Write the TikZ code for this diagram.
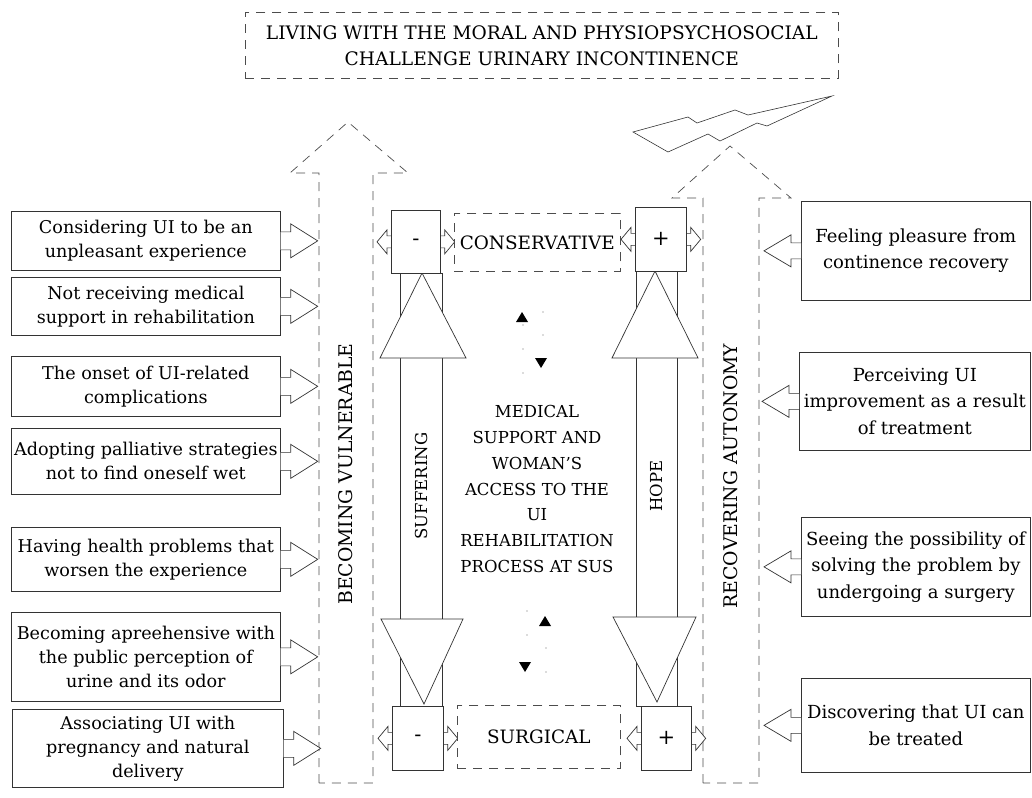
\documentclass[tikz,border=0pt]{standalone}
\usepackage{fontspec}
\setmainfont{DejaVu Serif}
\usetikzlibrary{calc}
\tikzset{
  ln/.style={draw=black!80, line width=0.7pt},
  dln/.style={draw=black!70, line width=0.7pt, dash pattern=on 9pt off 7pt},
  sbox/.style={ln, fill=white, rectangle, inner sep=0pt, anchor=north west, align=center, font=\fontsize{17.6}{24}\selectfont},
  rbox/.style={sbox, font=\fontsize{18}{26.5}\selectfont},
  dbox/.style={dln, fill=white, rectangle, inner sep=0pt, anchor=north west, align=center, font=\fontsize{18.6}{26}\selectfont},
  cbox/.style={ln, fill=white, rectangle, inner sep=0pt, anchor=north west, font=\fontsize{21}{24}\selectfont},
  lbl/.style={font=\fontsize{16.5}{25.8}\selectfont, align=center, inner sep=0pt},
  big/.style={lbl, font=\fontsize{18.8}{22}\selectfont},
  tri/.style={fill=black, draw=none},
  dotm/.style={fill=black!60, draw=none},
  arr/.style={ln, fill=white},
}
\newcommand\rarr[1]{\draw[arr] ($(#1.east)+(0,-9)$) -- ++(10,0) -- ++(0,-8) -- ++(27,17) -- ++(-27,17) -- ++(0,-8) -- ++(-10,0);}
\newcommand\larr[1]{\draw[arr] ($(#1.west)+(0,-8)$) -- ++(-10,0) -- ++(0,-8) -- ++(-27,16) -- ++(27,16) -- ++(0,-8) -- ++(10,0);}
\newcommand\harr[1]{\draw[arr] ($(#1.west)+(-14,0)$) -- ++(10,-12) -- ++(0,6) -- ($(#1.east)+(4,-6)$) -- ++(0,-6) -- ++(10,12) -- ++(-10,12) -- ++(0,-6) -- ($(#1.west)+(-4,6)$) -- ++(0,6) -- cycle;}
\begin{document}
\begin{tikzpicture}[x=1pt,y=-1pt]
\useasboundingbox (0,0) rectangle (1032,797);
% title
\node[dbox, minimum width=593pt, minimum height=66pt] (title) at (245,12) {LIVING WITH THE MORAL AND PHYSIOPSYCHOSOCIAL\\CHALLENGE URINARY INCONTINENCE};
% lightning
\draw[ln, line width=0.6pt] (633,132) -- (688,117) -- (697,123) -- (735,110) -- (748,115) -- (832,96) -- (767,126) -- (757,123) -- (720,141) -- (708,134) -- (668,152) -- cycle;
% big dashed arrows
\draw[dln] (319,783) -- (319,173) -- (290,173) -- (348,122) -- (408,173) -- (373,173) -- (373,783) -- cycle;
\draw[dln] (703,783) -- (703,198) -- (672,198) -- (730,146) -- (791,198) -- (759,198) -- (759,783) -- cycle;
\node[big, rotate=90] (vuln) at (346,474) {BECOMING VULNERABLE};
\node[big, rotate=90] (auto) at (731,476) {RECOVERING AUTONOMY};
% vertical shafts
\draw[arr] (400,273) rectangle (442,706);
\draw[arr] (636,271) rectangle (677,706);
\draw[arr] (422,273) -- (466,358) -- (380,358) -- cycle;
\draw[arr] (424,704) -- (463,619) -- (381,619) -- cycle;
\draw[arr] (655,271) -- (698,358) -- (612,358) -- cycle;
\draw[arr] (657,702) -- (696,617) -- (613,617) -- cycle;
\node[lbl, rotate=90, font=\fontsize{16.5}{20}\selectfont] (suff) at (421,486) {SUFFERING};
\node[lbl, rotate=90, font=\fontsize{16.5}{20}\selectfont] (hope) at (656,486) {HOPE};
% central boxes
\node[cbox, minimum width=49pt, minimum height=63pt] (mtop) at (391,210) {};
\node[cbox, minimum width=51pt, minimum height=64pt] (ptop) at (635,207) {};
\node[cbox, minimum width=51pt, minimum height=64pt] (mbot) at (392,706) {};
\node[cbox, minimum width=50pt, minimum height=64pt] (pbot) at (641,706) {};
\harr{mtop}\harr{ptop}\harr{mbot}\harr{pbot}
\node[cbox, minimum width=49pt, minimum height=63pt] (mtop2) at (391,210) {-};
\node[cbox, minimum width=51pt, minimum height=64pt] (ptop2) at (635,207) {+};
\node[cbox, minimum width=51pt, minimum height=64pt] (mbot2) at (392,706) {-};
\node[cbox, minimum width=50pt, minimum height=64pt] (pbot2) at (641,706) {+};
\node[dbox, font=\fontsize{18.4}{22}\selectfont, minimum width=166pt, minimum height=58pt] (cons) at (454,213) {CONSERVATIVE};
\node[dbox, font=\fontsize{18.4}{22}\selectfont, minimum width=163pt, minimum height=63pt] (surg) at (457,705) {SURGICAL};
% central text
\node[lbl] (center) at (537,489) {MEDICAL\\SUPPORT AND\\WOMAN'S\\ACCESS TO THE\\UI\\REHABILITATION\\PROCESS AT SUS};
% small triangles
\fill[tri] (522,312) -- (528,322) -- (516,322) -- cycle;
\fill[tri] (541,368) -- (547,358) -- (535,358) -- cycle;
\fill[tri] (545,616) -- (551,626) -- (539,626) -- cycle;
\fill[tri] (525,672) -- (531,662) -- (519,662) -- cycle;
\foreach \p in {(543,312),(523,325),(543,335),(523,349),(523,373),(527,611),(527,635),(546,648),(546,672)}
  \fill[dotm] \p circle (0.7);
% left boxes
\node[sbox, minimum width=269pt, minimum height=59pt] (L1) at (11,211) {Considering UI to be an\\unpleasant experience};
\node[sbox, minimum width=269pt, minimum height=58pt] (L2) at (11,277) {Not receiving medical\\support in rehabilitation};
\node[sbox, minimum width=269pt, minimum height=60pt] (L3) at (11,356) {The onset of UI-related\\complications};
\node[sbox, minimum width=269pt, minimum height=66pt] (L4) at (11,428) {Adopting palliative strategies\\not to find oneself wet};
\node[sbox, minimum width=269pt, minimum height=64pt] (L5) at (11,527) {Having health problems that\\worsen the experience};
\node[sbox, minimum width=269pt, minimum height=89pt] (L6) at (11,612) {Becoming apreehensive with\\the public perception of\\urine and its odor};
\node[sbox, minimum width=271pt, minimum height=78pt] (L7) at (12,709) {Associating UI with\\pregnancy and natural\\delivery};
\foreach \n in {L1,L2,L3,L4,L5,L6,L7} {\rarr{\n}}
% right boxes
\node[rbox, minimum width=229pt, minimum height=99pt] (R1) at (801,201) {Feeling pleasure from\\continence recovery};
\node[rbox, minimum width=231pt, minimum height=98pt] (R2) at (799,352) {Perceiving UI\\improvement as a result\\of treatment};
\node[rbox, minimum width=229pt, minimum height=99pt] (R3) at (801,517) {Seeing the possibility of\\solving the problem by\\undergoing a surgery};
\node[rbox, minimum width=229pt, minimum height=94pt] (R4) at (801,678) {Discovering that UI can\\be treated};
\foreach \n in {R1,R2,R3,R4} {\larr{\n}}
\end{tikzpicture}
\end{document}
